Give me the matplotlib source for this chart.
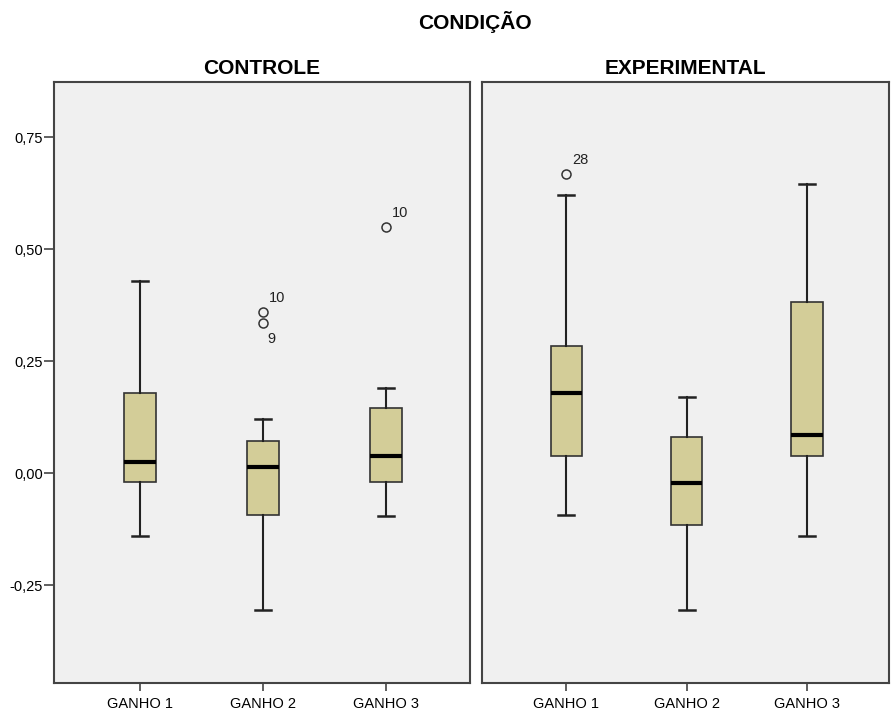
import matplotlib
matplotlib.use("Agg")
import matplotlib.pyplot as plt

plt.rcParams['font.family'] = ['Liberation Sans', 'DejaVu Sans']

groups = ["CONTROLE", "EXPERIMENTAL"]
categories = ["GANHO 1", "GANHO 2", "GANHO 3"]

# Box statistics per group: (whisker low, Q1, median, Q3, whisker high)
controle_stats = [
    (-0.14, -0.02, 0.025, 0.18, 0.43),
    (-0.305, -0.094, 0.013, 0.073, 0.12),
    (-0.096, -0.02, 0.038, 0.145, 0.19),
]
experimental_stats = [
    (-0.094, 0.038, 0.18, 0.285, 0.62),
    (-0.305, -0.116, -0.022, 0.082, 0.17),
    (-0.14, 0.038, 0.085, 0.383, 0.646),
]

# Outliers: (category index, value, case label)
controle_outliers = [(1, 0.36, "10"), (1, 0.335, "9"), (2, 0.55, "10")]
experimental_outliers = [(0, 0.668, "28")]

ytick_vals = [-0.25, 0.0, 0.25, 0.50, 0.75]
ytick_labels = ["-0,25", "0,00", "0,25", "0,50", "0,75"]

BOX_FILL = "#D3CD98"
PANEL_BG = "#F0F0F0"
FRAME = "#444444"

fig = plt.figure(figsize=(8.91, 7.11), dpi=100)
ax_left = fig.add_axes([54 / 891, 1 - 683 / 711, 416 / 891, 601 / 711])
ax_right = fig.add_axes([482 / 891, 1 - 683 / 711, 407 / 891, 601 / 711])


def draw_panel(ax, stats, outliers, title, show_y):
    bxp = []
    for (lo, q1, med, q3, hi) in stats:
        bxp.append(dict(whislo=lo, q1=q1, med=med, q3=q3, whishi=hi, fliers=[]))
    ax.bxp(bxp, positions=[1, 2, 3], widths=0.26, patch_artist=True,
           showfliers=False,
           boxprops=dict(facecolor=BOX_FILL, edgecolor="#333333", linewidth=1.2),
           medianprops=dict(color="black", linewidth=3),
           whiskerprops=dict(color="#222222", linewidth=1.5),
           capprops=dict(color="#222222", linewidth=1.8),
           capwidths=0.13)
    for ci, val, lab in outliers:
        ax.plot(ci + 1, val, marker="o", markersize=6.5, markerfacecolor="none",
                markeredgecolor="#333333", markeredgewidth=1.1, linestyle="none")
    # case labels placed beside each outlier
    for ci, val, lab in outliers:
        if lab == "9":
            ax.annotate(lab, (ci + 1, val), xytext=(3, -14), textcoords="offset points",
                        fontsize=10.5, color="#222222")
        else:
            ax.annotate(lab, (ci + 1, val), xytext=(4, 7), textcoords="offset points",
                        fontsize=10.5, color="#222222")
    ax.set_facecolor(PANEL_BG)
    ax.set_xlim(0.3, 3.68)
    ax.set_ylim(-0.468, 0.873)
    ax.set_xticks([1, 2, 3])
    ax.set_xticklabels(categories, fontsize=10.5)
    ax.tick_params(axis="x", direction="out", length=6, width=1.2, color=FRAME, pad=4)
    if show_y:
        ax.set_yticks(ytick_vals)
        ax.set_yticklabels(ytick_labels, fontsize=10.5)
        ax.tick_params(axis="y", direction="out", length=7, width=1.2, color=FRAME, pad=1)
    else:
        ax.set_yticks([])
    for sp in ax.spines.values():
        sp.set_color(FRAME)
        sp.set_linewidth(1.5)
    ax.set_title(title, fontsize=15, fontweight="bold", pad=6)


draw_panel(ax_left, controle_stats, controle_outliers, groups[0], True)
draw_panel(ax_right, experimental_stats, experimental_outliers, groups[1], False)

fig.text(475 / 891, 1 - 22 / 711, "CONDIÇÃO", ha="center", va="center",
         fontsize=15, fontweight="bold")

fig.savefig("out.png", dpi=100, facecolor="white")
